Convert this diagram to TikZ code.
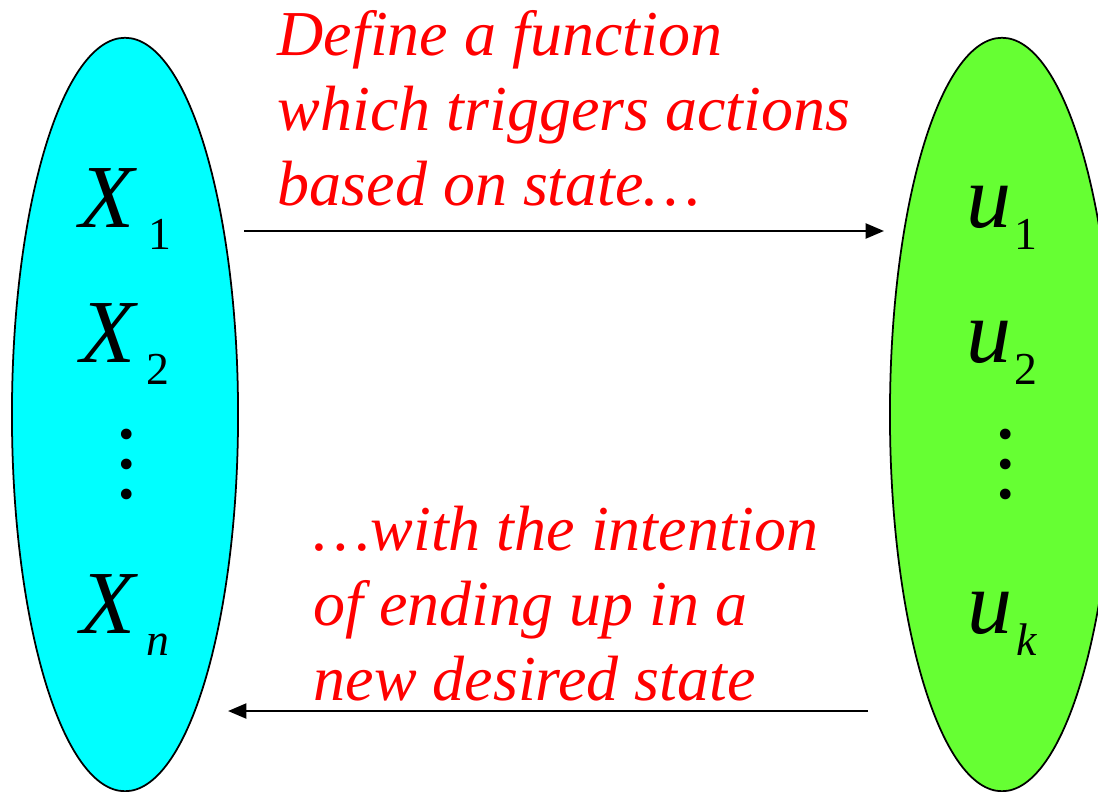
\documentclass[tikz,border=0pt]{standalone}
\usepackage{fontspec}
\setmainfont{Liberation Serif}
\usepackage{tikz}
\usetikzlibrary{arrows.meta,shapes.geometric}
\definecolor{statecyan}{RGB}{0,255,255}
\definecolor{actiongreen}{RGB}{102,255,51}
\newcommand{\svar}[3][1pt]{{\fontsize{25.6}{30}\selectfont\itshape #2}\kern#1\raisebox{-6.5pt}{\fontsize{13}{15}\selectfont #3}}

\begin{document}
\begin{tikzpicture}[x = 0.01cm, y = -0.01cm]
% Node styles ---
\tikzstyle{set} = [ellipse, draw = black, line width = 0.5pt, inner sep = 0pt, minimum width = 2.26cm, minimum height = 7.53cm] % State / action sets
\tikzstyle{sym} = [inner sep = 0pt, anchor = base] % Variables
\tikzstyle{dots} = [inner sep = 0pt, anchor = base, align = center, font = \fontsize{25.6}{8.5}\selectfont] % Vertical dots
\tikzstyle{note} = [inner sep = 0pt, anchor = base west, align = left, text = red, font = \fontsize{18.2}{21.3}\selectfont\itshape] % Comments
% Edge styles
\tikzstyle{con} = [-{Triangle[length = 5.2pt, width = 4.2pt]}, line width = 0.75pt] % Mappings
% Begin Figure ---
\useasboundingbox (0,0) rectangle (1098,791);
\clip (0,0) rectangle (1098,791);
% Nodes
\node at (+125.0,+414.5) [set, fill = statecyan] (xs) {};
\node at (+1002.0,+414.5) [set, fill = actiongreen, minimum width = 2.24cm] (us) {};
\node at (+125.0,+227.0) [sym] (x1) {\svar[4pt]{X}{1}};
\node at (+125.0,+362.0) [sym] (x2) {\svar[3pt]{X}{2}};
\node at (+127.0,+498.0) [dots] (xd) {.\\.\\.};
\node at (+125.0,+633.0) [sym] (xn) {\svar[3pt]{X}{\itshape n}};
\node at (+1002.0,+227.0) [sym] (u1) {\svar{u}{1}};
\node at (+1002.0,+362.0) [sym] (u2) {\svar{u}{2}};
\node at (+1006.0,+498.0) [dots] (ud) {.\\.\\.};
\node at (+1002.0,+633.0) [sym] (uk) {\svar{u}{\itshape k}};
\node at (+277.0,+205.0) [note] (fwd) {Define a function\\which triggers actions\\based on state\dots};
\node at (+313.0,+700.0) [note] (back) {\dots with the intention\\of ending up in a\\new desired state};
\coordinate (fs) at (+244.0,+231.0);
\coordinate (fe) at (+884.0,+231.0);
\coordinate (bs) at (+868.0,+711.0);
\coordinate (be) at (+228.0,+711.0);
% Paths
\path (fs) edge [con] (fe);
\path (bs) edge [con] (be);
\end{tikzpicture}
\end{document}
